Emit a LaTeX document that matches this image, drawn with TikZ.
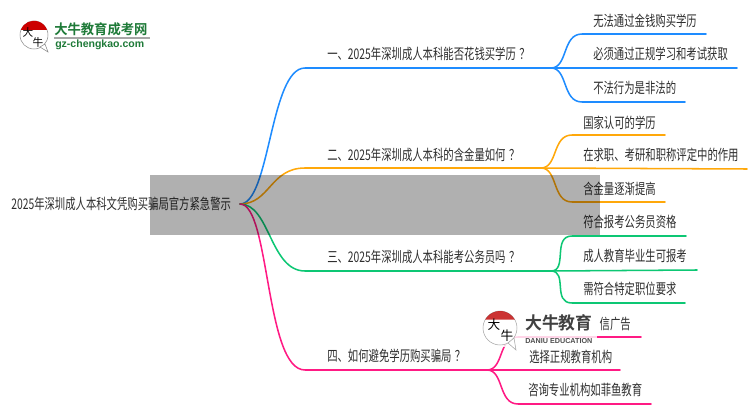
\documentclass[tikz,border=0pt]{standalone}
\usepackage{fontspec}
\setmainfont{Liberation Sans}
\newfontfamily\cjk[FakeStretch=0.706]{Noto Sans CJK SC}
\newfontfamily\cjkb[FakeStretch=0.97]{Noto Sans CJK SC Bold}
\newfontfamily\cjkplain{Noto Sans CJK SC}
\definecolor{cblue}{HTML}{1E8CFF}
\definecolor{cgold}{HTML}{FFA80A}
\definecolor{cgreen}{HTML}{0DC774}
\definecolor{cpink}{HTML}{FF1A84}
\definecolor{ctxt}{HTML}{2E2E2E}
\definecolor{cgrn}{HTML}{1E7A38}
\newcommand{\qmk}{\hspace{2.6pt}？}
\tikzset{
  lbl/.style={anchor=west,inner sep=0pt,text=ctxt,font=\cjk\fontsize{11pt}{13pt}\selectfont},
  conn/.style={line width=1.15pt,line cap=round,line join=round},
}
\begin{document}
\begin{tikzpicture}[x=0.75pt,y=-0.75pt]
\path[use as bounding box,fill=white] (0,0) rectangle (750,410);
% text
\node[lbl] (root) at (11,204) {2025年深圳成人本科文凭购买骗局官方紧急警示};
\node[lbl] (m1) at (327,54) {一、2025年深圳成人本科能否花钱买学历\qmk};
\node[lbl] (m2) at (327,155) {二、2025年深圳成人本科的含金量如何\qmk};
\node[lbl] (m3) at (327,257) {三、2025年深圳成人本科能考公务员吗\qmk};
\node[lbl] (m4) at (327,356) {四、如何避免学历购买骗局\qmk};
\node[lbl] (a1) at (593,21) {无法通过金钱购买学历};
\node[lbl] (a2) at (593,54) {必须通过正规学习和考试获取};
\node[lbl] (a3) at (593,88) {不法行为是非法的};
\node[lbl] (b1) at (583,123) {国家认可的学历};
\node[lbl] (b2) at (583,155) {在求职、考研和职称评定中的作用};
\node[lbl] (b3) at (583,189) {含金量逐渐提高};
\node[lbl] (c1) at (583,222) {符合报考公务员资格};
\node[lbl] (c2) at (583,256) {成人教育毕业生可报考};
\node[lbl] (c3) at (583,289) {需符合特定职位要求};
\node[lbl,anchor=east] (d1) at (631,324) {信广告};
\node[lbl] (d2) at (529,357) {选择正规教育机构};
\node[lbl] (d3) at (528,390) {咨询专业机构如菲鱼教育};
% anchors
\coordinate (r) at (240,204);
\coordinate (h1) at (551,68);
\coordinate (h2) at (541,168);
\coordinate (h3) at (551,271);
\coordinate (h4) at (487,370);
% main branches
\draw[conn,cblue] (r) .. controls (270,204) and (270,68) .. (305,68) -- (h1);
\draw[conn,cgold] (r) .. controls (270,204) and (270,168) .. (305,168) -- (h2);
\draw[conn,cgreen] (r) .. controls (270,204) and (270,271) .. (305,271) -- (h3);
\draw[conn,cpink] (r) .. controls (270,204) and (265,370) .. (305,370) -- (h4);
% children blue
\coordinate (a1e) at (706,34); \coordinate (a2e) at (737,68); \coordinate (a3e) at (685,102);
\draw[conn,cblue] (h1) .. controls (568,68) and (562,34) .. (582,34) -- (a1e);
\draw[conn,cblue] (h1) -- (a2e);
\draw[conn,cblue] (h1) .. controls (568,68) and (562,102) .. (582,102) -- (a3e);
% children gold
\coordinate (b1e) at (665,135); \coordinate (b2e) at (747,169); \coordinate (b3e) at (665,202);
\draw[conn,cgold] (h2) .. controls (558,168) and (552,135) .. (572,135) -- (b1e);
\draw[conn,cgold] (h2) -- (b2e);
\draw[conn,cgold] (h2) .. controls (558,168) and (552,202) .. (572,202) -- (b3e);
% children green
\coordinate (c1e) at (686,236); \coordinate (c2e) at (697,270); \coordinate (c3e) at (685,303);
\draw[conn,cgreen] (h3) .. controls (568,271) and (552,236) .. (572,236) -- (c1e);
\draw[conn,cgreen] (h3) -- (c2e);
\draw[conn,cgreen] (h3) .. controls (568,271) and (552,303) .. (572,303) -- (c3e);
% children pink
\coordinate (d1e) at (641,337); \coordinate (d2e) at (620,370); \coordinate (d3e) at (651,404);
\draw[conn,cpink] (h4) .. controls (504,370) and (498,337) .. (518,337) -- (d1e);
\draw[conn,cpink] (h4) -- (d2e);
\draw[conn,cpink] (h4) .. controls (504,370) and (498,404) .. (518,404) -- (d3e);
% grey band
\fill[black,opacity=0.31] (150,175) rectangle (600,235);
% top logo
\fill[white,draw=black!45,line width=0.4pt] (34,35) circle (14);
\fill[white,draw=black!45,line width=0.4pt] (40,47) -- (48,52) -- (45,44) -- cycle;
\fill[red!80!black] (20.8,30) arc (200:340:14) -- cycle;
\node[inner sep=0pt,text=black] (lg1) at (28,32) {\cjkplain\fontsize{8pt}{8pt}\selectfont 大};
\node[inner sep=0pt,text=black] (lg2) at (38,42) {\cjkplain\fontsize{8pt}{8pt}\selectfont 牛};
\node[anchor=west,inner sep=0pt,text=cgrn] (lg3) at (54,29.5) {\cjkb\fontsize{10.3pt}{11pt}\selectfont 大牛教育成考网};
\fill[black!35] (54,37.5) rectangle (150,39.5);
\node[anchor=west,inner sep=0pt,text=cgrn] (lg4) at (55,45) {\fontsize{7.9pt}{8pt}\selectfont\bfseries gz-chengkao.com};
% bottom logo
\fill[white,opacity=0.82] (484,308) rectangle (597,347);
\fill[white,draw=black!35,line width=0.4pt] (500,328) circle (17);
\fill[white,draw=black!35,line width=0.4pt] (508,343) -- (516,350) -- (514,338) -- cycle;
\fill[red!75!black,opacity=0.8] (485.3,319.5) arc (210:330:17) -- cycle;
\node[inner sep=0pt,text=black] (lg5) at (494,325) {\cjkplain\fontsize{9.5pt}{9.5pt}\selectfont 大};
\node[inner sep=0pt,text=black] (lg6) at (507,336) {\cjkplain\fontsize{9.5pt}{9.5pt}\selectfont 牛};
\node[anchor=west,inner sep=0pt,text=black!75] (lg7) at (525,323) {\cjkb\fontsize{13pt}{14pt}\selectfont 大牛教育};
\node[anchor=west,inner sep=0pt,text=black!70] (lg8) at (525,341) {\fontsize{5.4pt}{6pt}\selectfont\bfseries DANIU EDUCATION};
\end{tikzpicture}
\end{document}
